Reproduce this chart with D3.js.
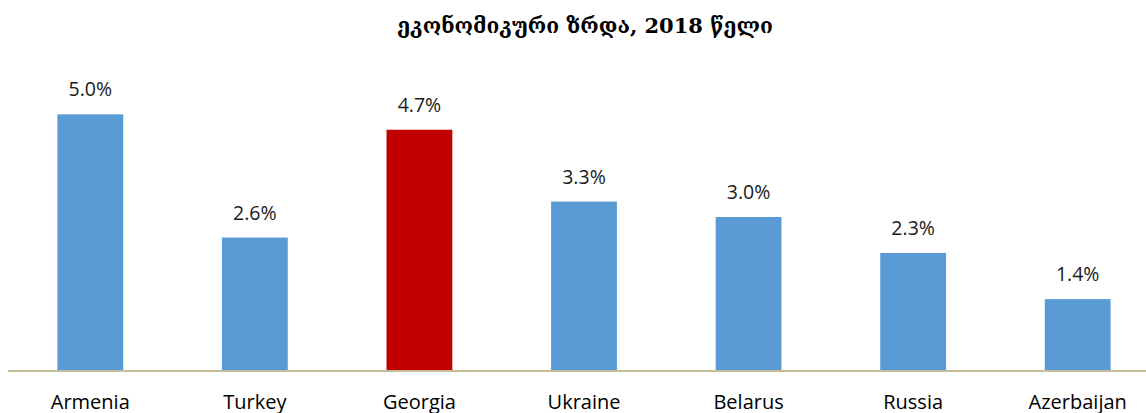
<!DOCTYPE html>
<html>
<head>
<meta charset="utf-8">
<script src="https://cdn.jsdelivr.net/npm/d3@7"></script>
<style>
  body { margin: 0; background: #fff; }
  svg { display: block; }
</style>
</head>
<body>
<div id="chart"></div>
<script>
// data
const countries = ['Armenia', 'Turkey', 'Georgia', 'Ukraine', 'Belarus', 'Russia', 'Azerbaijan'];
const growth = [5.0, 2.6, 4.7, 3.3, 3.0, 2.3, 1.4];
const highlight = ['Georgia'];
const title = 'ეკონომიკური ზრდა, 2018 წელი';

const width = 1146, height = 413;
const baseY = 371;

const svg = d3.select('#chart').append('svg')
  .attr('width', width)
  .attr('height', height);

const x = d3.scaleBand()
  .domain(countries)
  .range([8, 1160])
  .paddingInner(0.6)
  .paddingOuter(0.3);

const y = d3.scaleLinear()
  .domain([0, 6])
  .range([baseY, 63]);

// title
svg.append('text')
  .attr('x', 585)
  .attr('y', 33)
  .attr('text-anchor', 'middle')
  .attr('font-family', 'DejaVu Serif, DejaVu Sans, serif')
  .attr('font-size', 21)
  .attr('font-weight', 'bold')
  .attr('fill', '#000')
  .text(title);

const rows = countries.map((c, i) => ({ country: c, value: growth[i] }));

// bars
svg.append('g')
  .selectAll('rect')
  .data(rows)
  .enter().append('rect')
  .attr('x', d => x(d.country))
  .attr('y', d => y(d.value))
  .attr('width', x.bandwidth())
  .attr('height', d => y(0) - y(d.value))
  .attr('fill', d => highlight.includes(d.country) ? '#c00000' : '#5b9bd5');

// value labels
svg.append('g')
  .selectAll('text')
  .data(rows)
  .enter().append('text')
  .attr('x', d => x(d.country) + x.bandwidth() / 2)
  .attr('y', d => y(d.value) - 18)
  .attr('text-anchor', 'middle')
  .attr('font-family', 'Open Sans, sans-serif')
  .attr('font-size', 19.5)
  .attr('fill', '#1a1a1a')
  .text(d => d.value.toFixed(1) + '%');

// axis
const axis = svg.append('g')
  .attr('transform', `translate(0,${baseY})`)
  .call(d3.axisBottom(x).tickSize(0).tickPadding(24));
axis.select('.domain')
  .attr('d', `M8,0H${width}`)
  .attr('stroke', '#c4bd97')
  .attr('stroke-width', 2);
axis.selectAll('.tick text')
  .attr('font-family', 'Open Sans, sans-serif')
  .attr('font-size', 20)
  .attr('fill', '#000');
</script>
</body>
</html>
